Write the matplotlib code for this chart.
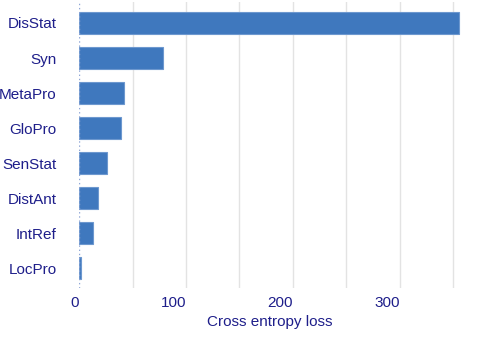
import matplotlib
matplotlib.use("Agg")
import matplotlib.pyplot as plt

# values
tasks = ["DisStat", "Syn", "MetaPro", "GloPro", "SenStat", "DistAnt", "IntRef", "LocPro"]
loss = [355, 78.5, 42.5, 39, 26.5, 18, 13.5, 2]
x_ticks = [0, 100, 200, 300]

bar_color = "#3f78be"
text_color = "#1e1e8a"

plt.rcParams["font.family"] = ["Liberation Sans", "DejaVu Sans"]

fig = plt.figure(figsize=(4.94, 3.62), dpi=100)
ax = fig.add_axes([0.16, 0.2044, 0.773, 0.7901])

ax.barh(range(len(tasks)), loss, height=0.63, color=bar_color,
        edgecolor="#6d98cf", linewidth=0.8, zorder=3)

ax.set_xlim(0, 357)
ax.set_ylim(len(tasks) - 1 + 0.57, -0.6)

# light vertical grid every 50
for g in range(50, 357, 50):
    ax.axvline(g, color="#e3e3e3", linewidth=1.0, zorder=1)
ax.axvline(0, color="#8fa6d6", linewidth=1.0, linestyle=(0, (1, 2)), zorder=4)

ax.set_yticks(range(len(tasks)))
ax.set_yticklabels(tasks)
ax.set_xticks(x_ticks)
ax.tick_params(axis="both", length=0, labelsize=11, labelcolor=text_color)
ax.tick_params(axis="y", pad=16)
ax.tick_params(axis="x", pad=6)
for lbl in ax.get_xticklabels():
    lbl.set_horizontalalignment("right")

ax.set_xlabel("Cross entropy loss", fontsize=11, color=text_color, labelpad=3)

for s in ax.spines.values():
    s.set_visible(False)

fig.savefig("out.png", dpi=100)
